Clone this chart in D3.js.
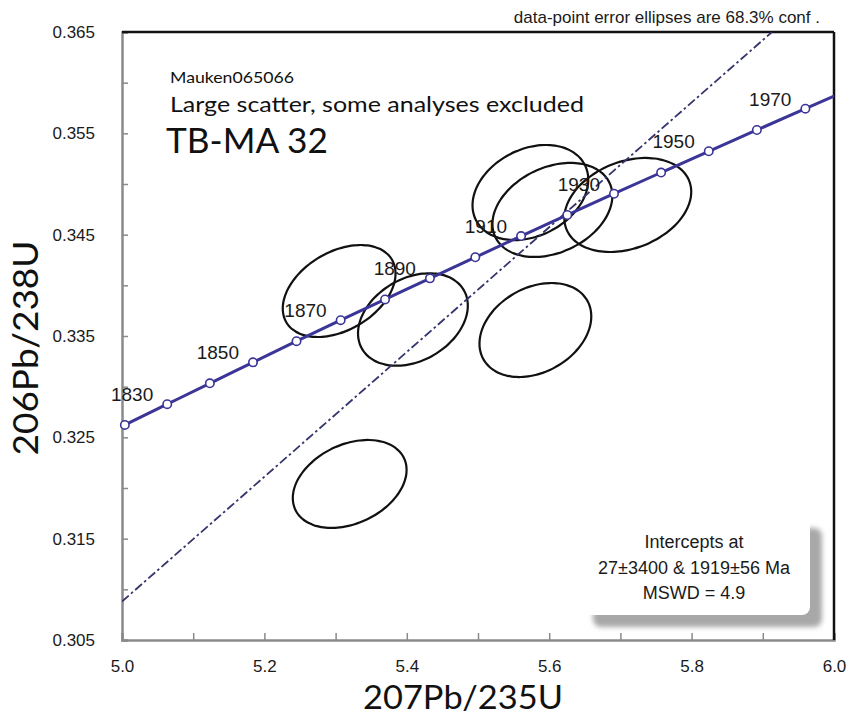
<!DOCTYPE html>
<html lang="en">
<head>
<meta charset="UTF-8">
<title>Concordia diagram - TB-MA 32</title>
<style>
  html, body { margin: 0; padding: 0; background: #fff; }
  svg { display: block; font-family: "Liberation Sans", Arial, sans-serif; }
</style>
</head>
<body>
<div id="chart"></div>
<script src="https://d3js.org/d3.v7.min.js"></script>
<script>
// concordia points, 10 Ma apart (1980 only carries the line out to the frame)
const concAges = [1820, 1830, 1840, 1850, 1860, 1870, 1880, 1890, 1900, 1910, 1920, 1930, 1940, 1950, 1960, 1970, 1980];
const concX = [5.0040, 5.0635, 5.1234, 5.1840, 5.2451, 5.3071, 5.3695, 5.4325, 5.4962, 5.5605, 5.6254, 5.6910, 5.7572, 5.8241, 5.8917, 5.9598, 6.0287];
const concY = [0.32622, 0.32827, 0.33033, 0.33240, 0.33449, 0.33656, 0.33861, 0.34069, 0.34277, 0.34486, 0.34694, 0.34904, 0.35113, 0.35323, 0.35533, 0.35743, 0.35954];
const labelAges = [1830, 1850, 1870, 1890, 1910, 1930, 1950, 1970];

// error ellipses: centre, half-width in x and y, correlation
const ellX   = [5.3050, 5.4086, 5.3198, 5.5806, 5.5736, 5.6045, 5.7104];
const ellY   = [0.33944, 0.33663, 0.32040, 0.33559, 0.34916, 0.34744, 0.34793];
const ellSX  = [0.0792, 0.0771, 0.0799, 0.0785, 0.0813, 0.0842, 0.0891];
const ellSY  = [0.00454, 0.00456, 0.00434, 0.00464, 0.00469, 0.00464, 0.00464];
const ellRho = [0.38, 0.30, 0.32, 0.29, 0.27, 0.30, 0.28];

// discordia (regression line) end points
const discX = [5.0, 5.913];
const discY = [0.3088, 0.365];

const xTicks = [5.0, 5.1, 5.2, 5.3, 5.4, 5.5, 5.6, 5.7, 5.8, 5.9, 6.0];
const xLabels = ["5.0", "5.2", "5.4", "5.6", "5.8", "6.0"];
const yTicks = [0.305, 0.310, 0.315, 0.320, 0.325, 0.330, 0.335, 0.340, 0.345, 0.350, 0.355, 0.360, 0.365];
const yLabels = ["0.305", "0.315", "0.325", "0.335", "0.345", "0.355", "0.365"];

const interceptLines = ["Intercepts at", "27\u00b13400 & 1919\u00b156 Ma", "MSWD = 4.9"];

const margin = {top: 32, left: 122, bottom: 78, right: 16};
const width = 850 - margin.left - margin.right;
const height = 718 - margin.top - margin.bottom;

const svg = d3.select("#chart")
  .append("svg")
  .attr("width", 850)
  .attr("height", 718);

const defs = svg.append("defs");
defs.append("clipPath").attr("id", "plot-clip")
  .append("rect").attr("width", width).attr("height", height);
defs.append("filter").attr("id", "blur")
  .attr("x", "-10%").attr("y", "-10%").attr("width", "120%").attr("height", "120%")
  .append("feGaussianBlur").attr("stdDeviation", 2.5);

const g = svg.append("g").attr("transform", `translate(${margin.left},${margin.top})`);

const x = d3.scaleLinear().domain([5.0, 6.0]).range([0, width]);
const y = d3.scaleLinear().domain([0.305, 0.365]).range([height, 0]);

// axes: grey left / bottom with inward ticks
const fmtX = d => { const s = d.toFixed(1); return xLabels.includes(s) ? s : ""; };
const fmtY = d => { const s = d.toFixed(3); return yLabels.includes(s) ? s : ""; };

const xAxis = g.append("g")
  .attr("transform", `translate(0,${height})`)
  .call(d3.axisBottom(x).tickValues(xTicks).tickSize(-7).tickPadding(20).tickFormat(fmtX));
const yAxis = g.append("g")
  .call(d3.axisLeft(y).tickValues(yTicks).tickSize(-6).tickPadding(27).tickFormat(fmtY));

[xAxis, yAxis].forEach(a => {
  a.select(".domain").attr("stroke", "#8a8a8a").attr("stroke-width", 2.5);
  a.selectAll(".tick line").attr("stroke", "#8a8a8a").attr("stroke-width", 1.5);
  a.selectAll(".tick text").attr("fill", "#1a1a1a").style("font-size", "17px")
    .style("font-family", "'Liberation Sans', Arial, sans-serif");
});

// black frame top and right
g.append("line").attr("x1", 0).attr("x2", width).attr("y1", 0).attr("y2", 0)
  .attr("stroke", "#111").attr("stroke-width", 2.5);
g.append("line").attr("x1", width).attr("x2", width).attr("y1", 0).attr("y2", height)
  .attr("stroke", "#111").attr("stroke-width", 2.5);

const plot = g.append("g").attr("clip-path", "url(#plot-clip)");

// error ellipses
const ellipsePts = i => d3.range(0, 73).map(k => {
  const t = k / 72 * 2 * Math.PI;
  const r = ellRho[i];
  return [
    x(ellX[i] + ellSX[i] * Math.cos(t)),
    y(ellY[i] + ellSY[i] * (r * Math.cos(t) + Math.sqrt(1 - r * r) * Math.sin(t)))
  ];
});
plot.selectAll("path.ellipse")
  .data(ellX.map((d, i) => i))
  .enter()
  .append("path")
  .attr("class", "ellipse")
  .attr("d", i => d3.line().curve(d3.curveCardinalClosed)(ellipsePts(i)))
  .attr("fill", "none")
  .attr("stroke", "#111")
  .attr("stroke-width", 2.2);

// discordia line
plot.append("line")
  .attr("x1", x(discX[0])).attr("y1", y(discY[0]))
  .attr("x2", x(discX[1])).attr("y2", y(discY[1]))
  .attr("stroke", "#34346e")
  .attr("stroke-width", 1.8)
  .attr("stroke-dasharray", "9,3,2.5,3");

// concordia curve
const conc = concAges.map((a, i) => ({age: a, x: concX[i], y: concY[i]}));
plot.append("path")
  .datum(conc)
  .attr("d", d3.line().x(d => x(d.x)).y(d => y(d.y)).curve(d3.curveMonotoneX))
  .attr("fill", "none")
  .attr("stroke", "#3a3597")
  .attr("stroke-width", 3);

const inside = conc.filter(d => d.x >= 5.0 && d.x <= 6.0);
g.selectAll("circle.age")
  .data(inside)
  .enter()
  .append("circle")
  .attr("class", "age")
  .attr("cx", d => x(d.x))
  .attr("cy", d => y(d.y))
  .attr("r", 4.2)
  .attr("fill", "#fff")
  .attr("stroke", "#3a3597")
  .attr("stroke-width", 1.6);

g.selectAll("text.age")
  .data(inside.filter(d => labelAges.includes(d.age)))
  .enter()
  .append("text")
  .attr("class", "age")
  .attr("x", d => x(d.x) - 14)
  .attr("y", d => y(d.y) - 3)
  .attr("text-anchor", "end")
  .attr("fill", "#1a1a1a")
  .style("font-size", "19px")
  .text(d => d.age);

// intercept box with grey shadow
const box = svg.append("g").attr("transform", "translate(581,516)");
box.append("rect").attr("x", 12).attr("y", 12).attr("width", 229).attr("height", 99).attr("rx", 8)
  .attr("fill", "#a8a8a8").attr("filter", "url(#blur)");
box.append("rect").attr("width", 229).attr("height", 99).attr("rx", 8).attr("fill", "#fff");
box.selectAll("text")
  .data(interceptLines)
  .enter()
  .append("text")
  .attr("x", 113)
  .attr("y", (d, i) => 32 + i * 25.5)
  .attr("text-anchor", "middle")
  .attr("fill", "#1a1a1a")
  .style("font-size", "18px")
  .text(d => d);

// annotations
svg.append("text")
  .attr("x", 820).attr("y", 23)
  .attr("text-anchor", "end")
  .attr("fill", "#1a1a1a")
  .style("font-size", "17px")
  .text("data-point error ellipses are 68.3% conf .");

const sans = "Lato, 'Open Sans', sans-serif";
svg.append("text").attr("x", 170).attr("y", 83)
  .style("font-family", sans).style("font-size", "16px").attr("fill", "#111")
  .attr("textLength", 124).attr("lengthAdjust", "spacingAndGlyphs")
  .text("Mauken065066");
svg.append("text").attr("x", 170).attr("y", 112)
  .style("font-family", sans).style("font-size", "22px").attr("fill", "#111")
  .attr("textLength", 414).attr("lengthAdjust", "spacingAndGlyphs")
  .text("Large scatter, some analyses excluded");
svg.append("text").attr("x", 166).attr("y", 153)
  .style("font-family", sans).style("font-size", "35px").attr("fill", "#111")
  .attr("textLength", 162).attr("lengthAdjust", "spacingAndGlyphs")
  .text("TB-MA 32");

// axis titles
svg.append("text")
  .attr("x", 463).attr("y", 709)
  .attr("text-anchor", "middle")
  .style("font-family", sans).style("font-size", "33px").attr("fill", "#111")
  .attr("textLength", 200).attr("lengthAdjust", "spacingAndGlyphs")
  .text("207Pb/235U");
svg.append("text")
  .attr("transform", "translate(38,348) rotate(-90)")
  .attr("text-anchor", "middle")
  .style("font-family", sans).style("font-size", "35px").attr("fill", "#111")
  .attr("textLength", 215).attr("lengthAdjust", "spacingAndGlyphs")
  .text("206Pb/238U");
</script>
</body>
</html>
